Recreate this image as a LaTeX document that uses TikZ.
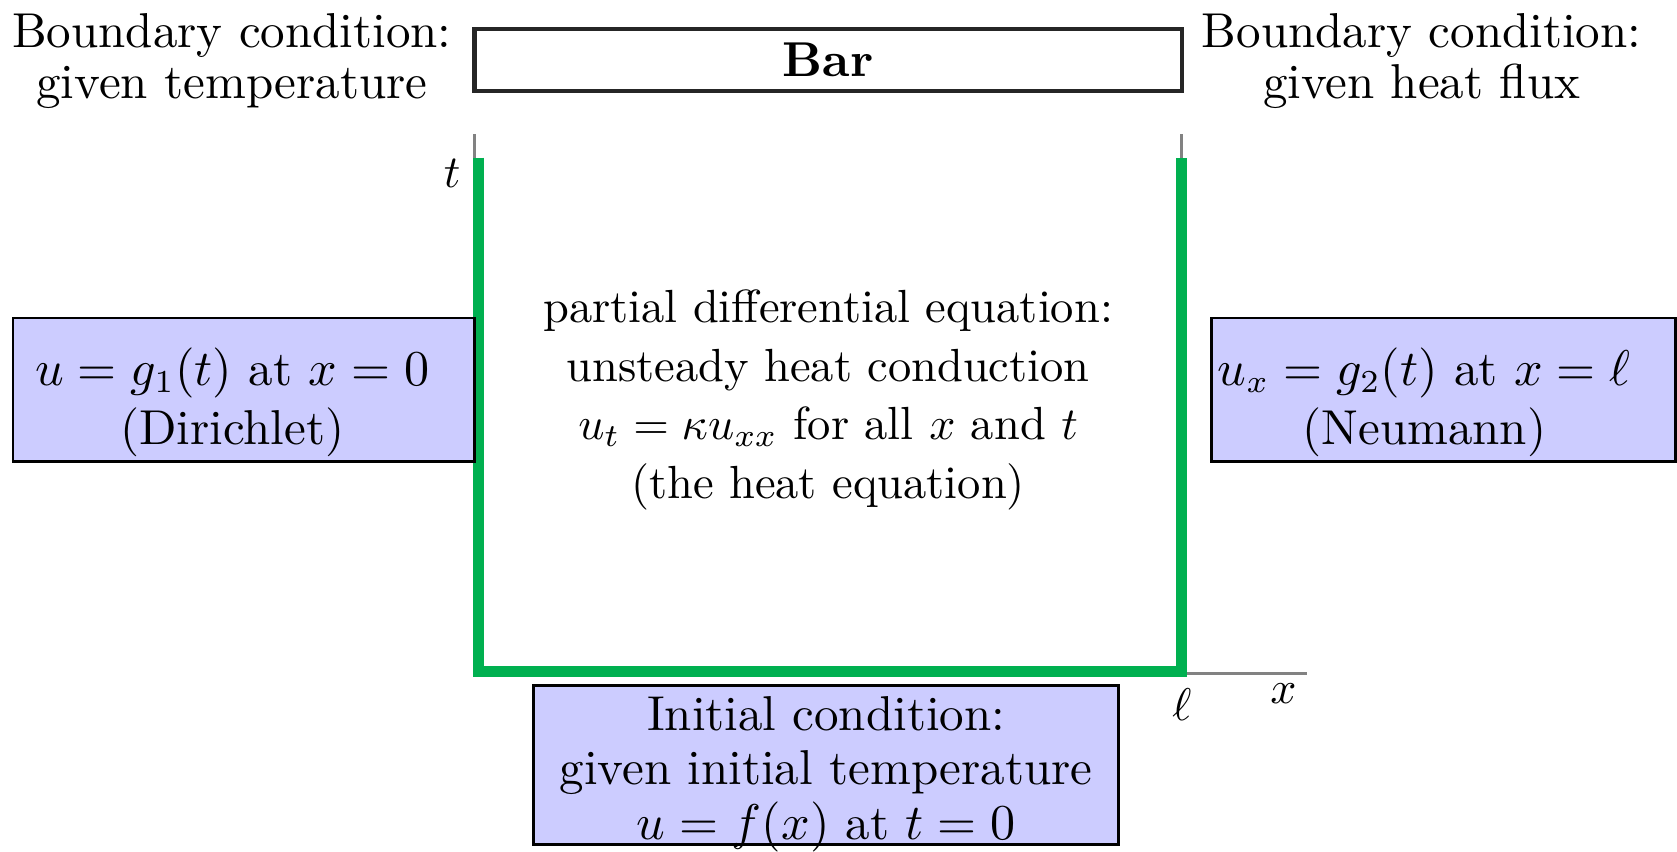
\documentclass[tikz,border=0pt]{standalone}
\usepackage{amsmath}
\usetikzlibrary{positioning, calc}
\definecolor{CondBlue}  {RGB}{204, 204, 255}
\definecolor{EdgeGreen} {RGB}{  0, 176,  80}
\definecolor{AxisGray}  {RGB}{130, 130, 130}
\tikzset{
  % Bar sketch at the top
  barbox/.style={
    rectangle, draw=black!85, line width=1.0pt,
    font=\fontsize{10.7}{12.8}\selectfont\bfseries, inner sep=0pt,
    minimum width=5.43cm, minimum height=0.476cm
  },
  % Boxed conditions (boundary / initial)
  cond/.style={
    rectangle, draw=black, fill=CondBlue, line width=0.6pt,
    align=center, inner xsep=0.5pt, inner ysep=0pt
  },
  % Plain text labels
  caption/.style={
    align=center, inner sep=0pt
  },
  % Coordinate axes
  axisline/.style={
    draw=AxisGray, line width=0.6pt
  },
  % Edges of the domain where conditions apply
  domainedge/.style={
    draw=EdgeGreen, line width=2.4pt, line join=miter
  }
}

\begin{document}
\begin{tikzpicture}

  \useasboundingbox (-3.64,-1.365) rectangle (9.23,5.17);

  % ── Axes ──────────────────────────────────────────────────────────────────
  \coordinate (origin) at (0,0);
  \coordinate (ttop)   at (0,4.14);
  \coordinate (lfoot)  at (5.43,0);
  \coordinate (ltop)   at (5.43,4.14);
  \coordinate (xend)   at (6.39,0);

  \draw[axisline] (origin) -- (ttop);
  \draw[axisline] (lfoot) -- (ltop);
  \draw[axisline] (origin) -- (xend);

  \node[caption] (tlab) at (-0.17,3.84) {$t$};
  \node[caption] (llab) at (5.43,-0.24) {$\ell$};
  \node[caption] (xlab) at (6.21,-0.15) {$x$};

  % ── Bar and boundary captions ─────────────────────────────────────────────
  \node[barbox] (bar) at (2.715,4.71) {Bar};
  \node[caption, font=\fontsize{10.7}{11.2}\selectfont] (lefttitle)
        at (-1.86,4.70) {Boundary condition:\\given temperature};
  \node[caption, font=\fontsize{10.7}{11.2}\selectfont] (righttitle)
        at (7.27,4.70) {Boundary condition:\\given heat flux};

  % ── Domain edges ──────────────────────────────────────────────────────────
  \coordinate (gtl) at (0.03,3.96);
  \coordinate (gbl) at (0.03,0.02);
  \coordinate (gbr) at (5.43,0.02);
  \coordinate (gtr) at (5.43,3.96);
  \draw[domainedge] (gtl) -- (gbl) -- (gbr) -- (gtr);

  % ── PDE in the interior ───────────────────────────────────────────────────
  \node[caption, font=\fontsize{10.15}{12.8}\selectfont] (pde) at (2.715,2.10)
        {partial differential equation:\\
         unsteady heat conduction\\
         $u_t=\kappa u_{xx}$ for all $x$ and $t$\\
         (the heat equation)};

  % ── Conditions ────────────────────────────────────────────────────────────
  \node[cond, font=\fontsize{10.7}{13}\selectfont,
        minimum width=3.54cm, minimum height=1.10cm] (dirichlet)
        at (-1.77,2.18)
        {\rule{0pt}{13.7pt}$u=g_1(t)\ \text{at}\ x=0$\hspace*{5pt}\\
         (Dirichlet)\hspace*{5pt}};
  \node[cond, font=\fontsize{10.7}{13}\selectfont,
        minimum width=3.56cm, minimum height=1.10cm] (neumann)
        at (7.44,2.18)
        {\rule{0pt}{13.7pt}$u_x=g_2(t)\ \text{at}\ x=\ell$\hspace*{8.5pt}\\
         (Neumann)\hspace*{8.5pt}};
  \node[cond, font=\fontsize{10.7}{11.9}\selectfont, inner ysep=-2pt,
        minimum width=4.49cm, minimum height=1.22cm] (initial)
        at (2.70,-0.70)
        {\rule{0pt}{11.4pt}Initial condition:\\
         given initial temperature\\
         $u=f(x)$ at $t=0$};

\end{tikzpicture}
\end{document}
